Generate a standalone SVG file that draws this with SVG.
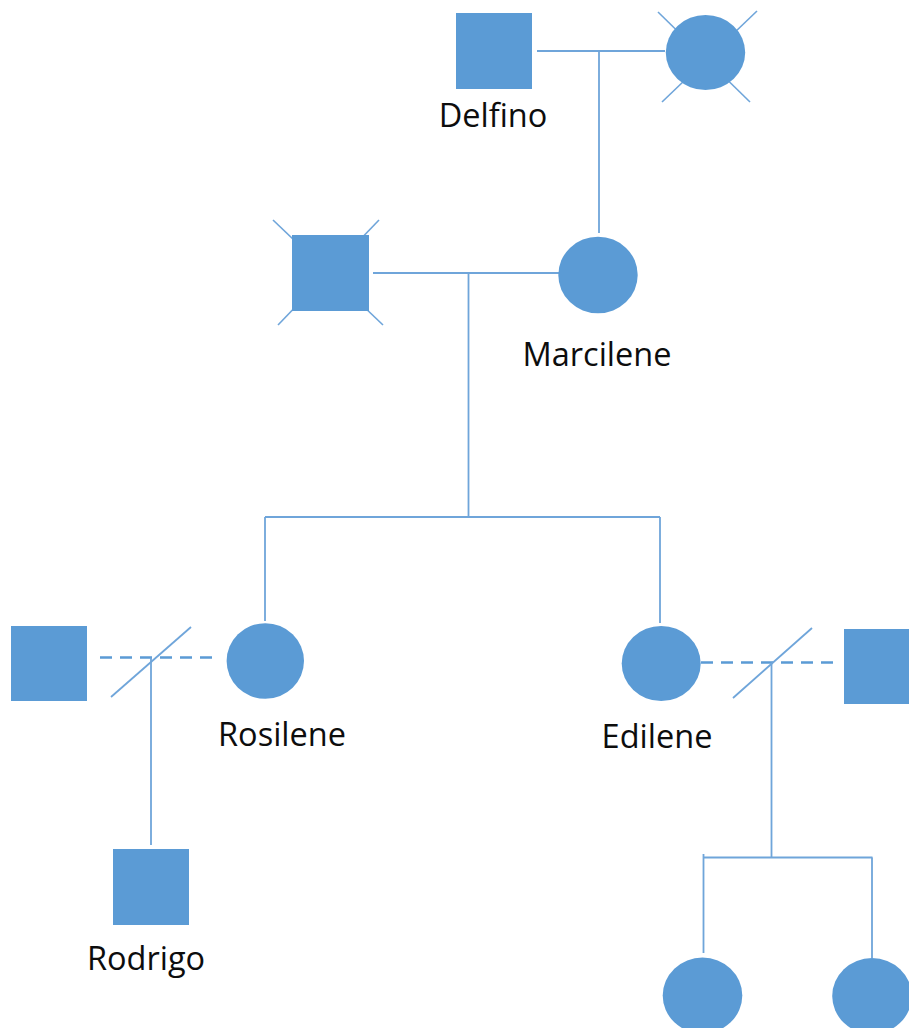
<svg xmlns="http://www.w3.org/2000/svg" width="909" height="1028" viewBox="0 0 909 1028">
  <style>
    .shape { fill: #5b9bd5; }
    .line { stroke: #6fa5da; stroke-width: 1.8; fill: none; }
    .dash { stroke: #5b9bd5; stroke-width: 2.6; fill: none; stroke-dasharray: 12 8; }
    .cross { stroke: #6fa5da; stroke-width: 1.6; fill: none; }
    .label { font-family: "Open Sans", "Liberation Sans", sans-serif; font-size: 32.5px; fill: #0d0d0d; text-anchor: middle; }
  </style>
  <rect width="909" height="1028" fill="#ffffff"/>

  <!-- relationship and descent lines -->
  <g id="connectors">
    <!-- Delfino couple -->
    <line class="line" x1="537" y1="51" x2="665" y2="51"/>
    <line class="line" x1="599" y1="51" x2="599" y2="233"/>
    <!-- Marcilene couple -->
    <line class="line" x1="373" y1="273" x2="559" y2="273"/>
    <line class="line" x1="468.5" y1="273" x2="468.5" y2="516"/>
    <!-- sibship -->
    <line class="line" x1="265" y1="517" x2="660" y2="517"/>
    <line class="line" x1="265" y1="517" x2="265" y2="621"/>
    <line class="line" x1="660" y1="517" x2="660" y2="623"/>
    <!-- Rosilene separated union -->
    <line class="dash" x1="100" y1="657.5" x2="215" y2="657.5"/>
    <line class="line" x1="111" y1="697" x2="191" y2="627"/>
    <line class="line" x1="151" y1="657.5" x2="151" y2="845"/>
    <!-- Edilene separated union -->
    <line class="dash" x1="701" y1="662.5" x2="838" y2="662.5"/>
    <line class="line" x1="733" y1="698" x2="812" y2="628"/>
    <line class="line" x1="771.5" y1="662.5" x2="771.5" y2="857"/>
    <line class="line" x1="703" y1="857.5" x2="872.5" y2="857.5"/>
    <line class="line" x1="703.5" y1="854" x2="703.5" y2="953"/>
    <line class="line" x1="872" y1="857.5" x2="872" y2="958"/>
  </g>

  <g id="delfino">
    <rect class="shape" x="456" y="13" width="76" height="76"/>
    <text class="label" x="493" y="127">Delfino</text>
  </g>

  <g id="delfino-wife">
    <line class="cross" x1="658" y1="12" x2="750" y2="102"/>
    <line class="cross" x1="757" y1="11" x2="662" y2="102"/>
    <ellipse class="shape" cx="705.5" cy="52.5" rx="39.7" ry="37.5"/>
  </g>

  <g id="marcilene-husband">
    <line class="cross" x1="273" y1="220" x2="383" y2="325"/>
    <line class="cross" x1="379" y1="220" x2="278" y2="325"/>
    <rect class="shape" x="292" y="235" width="77" height="76"/>
  </g>

  <g id="marcilene">
    <ellipse class="shape" cx="598" cy="275" rx="39.7" ry="38.3"/>
    <text class="label" x="597" y="366">Marcilene</text>
  </g>

  <g id="rosilene-partner">
    <rect class="shape" x="11" y="626" width="76" height="75"/>
  </g>

  <g id="rosilene">
    <ellipse class="shape" cx="265.3" cy="661" rx="38.7" ry="37.8"/>
    <text class="label" x="282" y="746">Rosilene</text>
  </g>

  <g id="rodrigo">
    <rect class="shape" x="113" y="849" width="76" height="76"/>
    <text class="label" x="146" y="970">Rodrigo</text>
  </g>

  <g id="edilene">
    <ellipse class="shape" cx="661.2" cy="663.5" rx="39.5" ry="37.5"/>
    <text class="label" x="657" y="748">Edilene</text>
  </g>

  <g id="edilene-partner">
    <rect class="shape" x="844" y="629" width="76" height="75"/>
  </g>

  <g id="daughter-1">
    <ellipse class="shape" cx="702.5" cy="995.5" rx="39.8" ry="38"/>
  </g>

  <g id="daughter-2">
    <ellipse class="shape" cx="872" cy="996" rx="39.8" ry="38"/>
  </g>
</svg>
